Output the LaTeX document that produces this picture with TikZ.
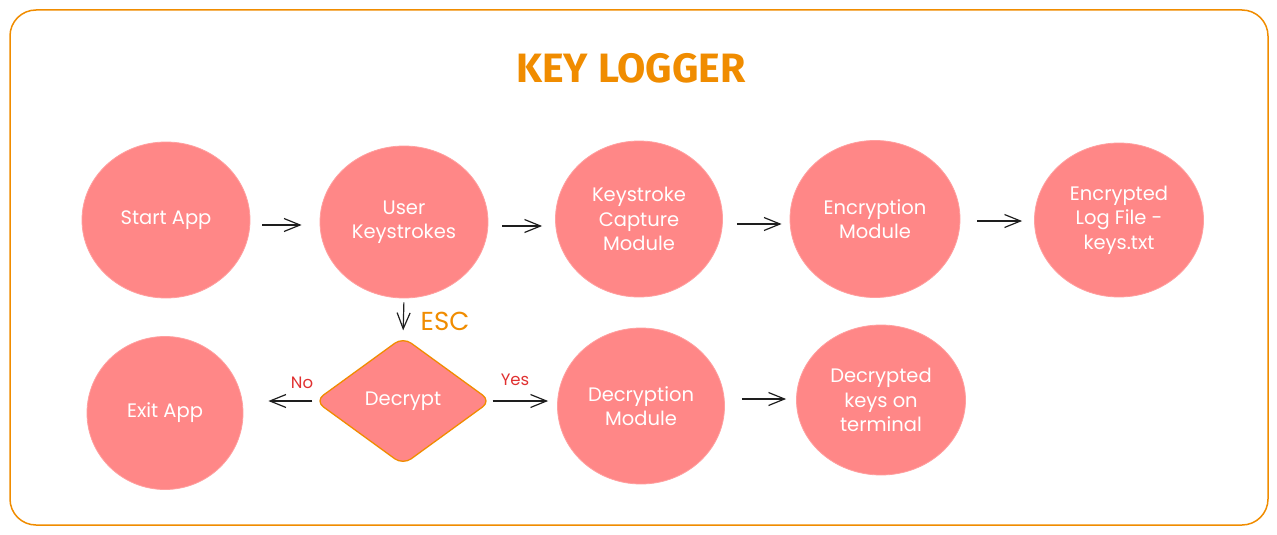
\documentclass[tikz,border=0pt]{standalone}
\usepackage{fontspec}
\setmainfont{Poppins}
\newfontfamily\titlefont{Fira Sans}
\usetikzlibrary{shapes.geometric,arrows.meta}
\definecolor{frameor}{HTML}{F08C00}
\definecolor{salmon}{HTML}{FF8787}
\definecolor{ink}{HTML}{1E1E1E}
\definecolor{lblred}{HTML}{E03131}
\tikzset{
  proc/.style={ellipse, fill=salmon, draw=salmon!80!white, line width=0.8pt, inner sep=0pt,
    text=white, align=center, font=\fontsize{19.5}{24.5}\selectfont},
  decide/.style={diamond, fill=salmon, draw=frameor, line width=1.3pt, rounded corners=10pt,
    inner sep=0pt, minimum width=176pt, minimum height=128pt, aspect=1.35,
    text=white, font=\fontsize{19.5}{24}\selectfont},
  flow/.style={draw=ink, line width=1.2pt, -{Straight Barb[length=16pt,width=13pt]}},
  lbl/.style={text=lblred, font=\fontsize{16.5}{17}\selectfont},
}
\begin{document}
\begin{tikzpicture}[x=1pt,y=-1pt]
\useasboundingbox (0,0) rectangle (1277,535);
\draw[frameor, line width=1.5pt, rounded corners=26pt] (10,10) rectangle (1268,525);
\node[font=\titlefont\fontsize{41}{44}\selectfont\bfseries, text=frameor] (title) at (631,68) {KEY LOGGER};

\node[proc, minimum width=168pt, minimum height=156pt] (start) at (166,220) {Start App};
\node[proc, minimum width=168pt, minimum height=152pt] (user) at (404,222) {User\\Keystrokes};
\node[proc, minimum width=167pt, minimum height=156pt] (cap) at (639,219) {Keystroke\\Capture\\Module};
\node[proc, minimum width=170pt, minimum height=157pt] (enc) at (875,219) {Encryption\\Module};
\node[proc, minimum width=169pt, minimum height=154pt] (log) at (1119,220) {Encrypted\\Log File -\\keys.txt};
\node[proc, minimum width=156pt, minimum height=153pt] (exit) at (165,413) {Exit App};
\node[decide] (dec) at (403,401) {Decrypt};
\node[proc, minimum width=167pt, minimum height=156pt] (dmod) at (641,406) {Decryption\\Module};
\node[proc, minimum width=169pt, minimum height=150pt] (dkeys) at (881,400) {Decrypted\\keys on\\terminal};

\draw[flow, shorten <=12pt, shorten >=18pt] (start.east |- 0,225) -- (user.west |- 0,225);
\draw[flow, shorten <=14pt, shorten >=13pt] (user.east |- 0,226) -- (cap.west |- 0,226);
\draw[flow, shorten <=14pt, shorten >=8pt] (cap.east |- 0,224) -- (enc.west |- 0,224);
\draw[flow, shorten <=17pt, shorten >=12pt] (enc.east |- 0,221) -- (log.west |- 0,221);
\draw[flow, shorten <=4pt, shorten >=6pt] (user.south) -- (dec.north);
\draw[flow, shorten <=2pt, shorten >=25pt] (dec.west) -- (exit.east |- dec.west);
\draw[flow, shorten <=1pt, shorten >=9pt] (dec.east) -- (dmod.west |- dec.east);
\draw[flow, shorten <=17pt, shorten >=10pt] (dmod.east |- 0,399) -- (dkeys.west |- 0,399);

\node[text=frameor, font=\fontsize{26}{28}\selectfont] (esc) at (445,321) {ESC};
\node[lbl] (no) at (302,383) {No};
\node[lbl] (yes) at (515,380) {Yes};
\end{tikzpicture}
\end{document}
